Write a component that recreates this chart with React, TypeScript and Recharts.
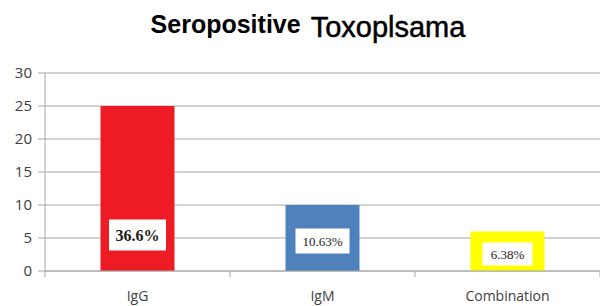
import React from 'react';
import { BarChart, Bar, XAxis, YAxis, CartesianGrid, Cell, LabelList } from 'recharts';

// Chart data
const categories = ['IgG', 'IgM', 'Combination'];
const counts = [25, 10, 6];
const percentLabels = ['36.6%', '10.63%', '6.38%'];
const yTicks = [0, 5, 10, 15, 20, 25, 30];

const barColors = ['#ED1C24', '#4F81BD', '#FFFF00'];

// White label boxes inside the bars (size + centre height above bar base)
const labelBoxes = [
    { w: 57, h: 31, lift: 36, size: 16, bold: true },
    { w: 54, h: 25, lift: 30, size: 13, bold: false },
    { w: 50, h: 23, lift: 17, size: 13, bold: false }
];

const data = categories.map((name, i) => ({ name, value: counts[i], pct: percentLabels[i] }));

const GRID = '#a6a6a6';

const CategoryTick = (props: any) => {
    const { x, y, payload, index } = props;
    const half = payload && payload.offset ? payload.offset : 92.5;
    return (
        <g>
            <line x1={x - half} y1={y} x2={x - half} y2={y + 6} stroke={GRID} />
            {index === categories.length - 1 && (
                <line x1={x + half} y1={y} x2={x + half} y2={y + 6} stroke={GRID} />
            )}
            <text x={x} y={y + 30} textAnchor="middle" fill="#404040" fontSize={14} fontFamily="'Open Sans', sans-serif">
                {payload.value}
            </text>
        </g>
    );
};

const PctLabel = (props: any) => {
    const { x, y, width, height, index, value } = props;
    const box = labelBoxes[index];
    const cx = x + width / 2;
    const cy = y + height - box.lift;
    return (
        <g>
            <rect x={cx - box.w / 2} y={cy - box.h / 2} width={box.w} height={box.h} fill="#ffffff" />
            <text
                x={cx}
                y={cy}
                textAnchor="middle"
                dominantBaseline="central"
                fontFamily="'Liberation Serif', serif"
                fontSize={box.size}
                fontWeight={box.bold ? 'bold' : 'normal'}
                fill="#1a1a1a"
            >
                {value}
            </text>
        </g>
    );
};

const App: React.FC = () => {
    return (
        <div style={{ position: 'relative', width: 600, height: 306, background: '#fff', overflow: 'hidden' }}>
            <style>{`body{margin:0}`}</style>
            <div
                style={{
                    position: 'absolute',
                    top: 10,
                    left: 8,
                    width: 600,
                    textAlign: 'center',
                    fontFamily: "'Liberation Sans', Arial, sans-serif",
                    color: '#000',
                    whiteSpace: 'nowrap',
                    lineHeight: '34px'
                }}
            >
                <span style={{ fontSize: 25, fontWeight: 'bold', position: 'relative', top: -4, marginRight: 10 }}>Seropositive</span>
                <span style={{ fontSize: 29, WebkitTextStroke: '0.5px #000' }}>Toxoplsama</span>
            </div>
            <BarChart
                width={600}
                height={306}
                data={data}
                margin={{ top: 73, right: 0, bottom: 0, left: 0 }}
                barCategoryGap="30%"
            >
                <CartesianGrid horizontal vertical={false} stroke={GRID} />
                <XAxis
                    dataKey="name"
                    axisLine={{ stroke: GRID }}
                    tickLine={false}
                    tickSize={0}
                    tickMargin={0}
                    tick={<CategoryTick />}
                    interval={0}
                    height={35}
                />
                <YAxis
                    domain={[0, 30]}
                    ticks={yTicks}
                    width={45}
                    axisLine={{ stroke: GRID }}
                    tickLine={{ stroke: GRID }}
                    tickSize={7}
                    tickMargin={6}
                    tick={{ fill: '#404040', fontSize: 15, fontFamily: "'Open Sans', sans-serif" }}
                />
                <Bar dataKey="value" isAnimationActive={false}>
                    {data.map((d, i) => (
                        <Cell key={d.name} fill={barColors[i]} />
                    ))}
                    <LabelList dataKey="pct" content={<PctLabel />} />
                </Bar>
            </BarChart>
        </div>
    );
};

export default App;
